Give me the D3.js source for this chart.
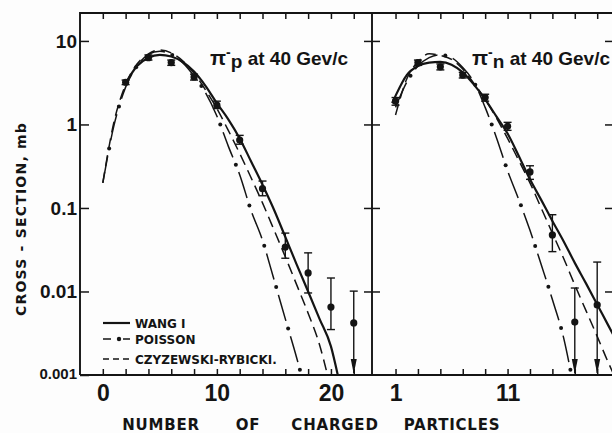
<!DOCTYPE html>
<html><head><meta charset="utf-8">
<script src="https://cdn.jsdelivr.net/npm/d3@7"></script>
<style>
html,body{margin:0;padding:0;background:#fff;}
svg{display:block;}
</style></head><body>
<svg id="chart" width="612" height="433"></svg>
<script>
// ---- pi- p at 40 GeV/c : measured topological cross sections (mb) ----
const ppN    = [2, 4, 6, 8, 10, 12, 14, 16, 18, 20, 22];
const ppV    = [3.2, 6.3, 5.5, 3.7, 1.7, 0.65, 0.17, 0.034, 0.0167, 0.0065, 0.0042];
const ppLo   = [3.0, 5.9, 5.1, 3.4, 1.55, 0.58, 0.14, 0.025, 0.0096, 0.0035, null]; // null = upper limit
const ppHi   = [3.4, 6.8, 5.9, 4.0, 1.9, 0.74, 0.21, 0.05, 0.029, 0.0145, 0.0101];

// model curves, pi- p
const ppWangN = [2, 3, 4, 5, 6, 7, 8, 9, 10, 11, 12, 13, 14, 15, 16, 17, 18, 19, 20, 20.6];
const ppWangV = [3.1, 5.0, 6.3, 6.8, 6.5, 5.6, 4.3, 2.9, 1.8, 1.15, 0.68, 0.36, 0.19, 0.096, 0.045, 0.021, 0.01, 0.0047, 0.0022, 0.001];
const ppPoisN = [0, 1, 2, 3, 4, 5, 6, 7, 8, 9, 10, 11, 12, 13, 14, 15, 16, 17, 17.4];
const ppPoisV = [0.2, 1.0, 2.8, 5.0, 6.9, 7.5, 6.9, 5.5, 3.8, 2.4, 1.26, 0.55, 0.25, 0.093, 0.041, 0.014, 0.0047, 0.0016, 0.001];
const ppCrN   = [0, 1, 2, 3, 4, 5, 6, 7, 8, 9, 10, 11, 12, 13, 14, 15, 16, 17, 18, 19, 19.7];
const ppCrV   = [0.2, 1.1, 3.0, 5.3, 7.0, 7.8, 7.2, 5.8, 4.1, 2.6, 1.55, 0.85, 0.45, 0.23, 0.115, 0.055, 0.026, 0.012, 0.0055, 0.0023, 0.001];

// ---- pi- n at 40 GeV/c ----
const pnN    = [1, 3, 5, 7, 9, 11, 13, 15, 17, 19];
const pnV    = [1.9, 5.5, 4.9, 3.9, 2.1, 0.95, 0.27, 0.0475, 0.0043, 0.0069];
const pnLo   = [1.7, 5.1, 4.5, 3.6, 1.9, 0.85, 0.22, 0.030, null, null];
const pnHi   = [2.1, 5.9, 5.3, 4.2, 2.3, 1.06, 0.32, 0.083, 0.011, 0.0225];

const pnWangN = [0.7, 1, 2, 3, 4, 5, 6, 7, 8, 9, 10, 11, 12, 13, 14, 15, 16, 17, 18, 19, 20, 21];
const pnWangV = [1.8, 2.2, 3.9, 5.0, 5.5, 5.6, 5.2, 4.2, 3.0, 2.0, 1.25, 0.78, 0.42, 0.22, 0.125, 0.07, 0.04, 0.022, 0.0125, 0.007, 0.0039, 0.0022];
const pnPoisN = [1, 2, 3, 4, 5, 6, 7, 8, 9, 10, 11, 12, 13, 14, 15, 16, 16.7];
const pnPoisV = [1.6, 3.2, 5.0, 6.3, 6.8, 6.3, 4.8, 3.2, 1.6, 0.7, 0.28, 0.126, 0.054, 0.021, 0.008, 0.0028, 0.001];
const pnCrN   = [1, 2, 3, 4, 5, 6, 7, 8, 9, 10, 11, 12, 13, 14, 15, 16, 17, 18, 19, 20, 20.5];
const pnCrV   = [1.3, 3.5, 5.6, 7.0, 6.7, 6.0, 4.6, 3.1, 2.0, 1.2, 0.68, 0.37, 0.2, 0.1, 0.05, 0.025, 0.012, 0.0059, 0.0029, 0.0014, 0.001];

// ---- ticks and labels ----
const yTicks       = [0.001, 0.01, 0.1, 1, 10];
const yTickLabels  = ["0.001", "0.01", "0.1", "1", "10"];
const ppXTicks     = [0, 2, 4, 6, 8, 10, 12, 14, 16, 18, 20, 22];
const ppXLabels    = [0, 10, 20];
const pnXTicks     = [1, 3, 5, 7, 9, 11, 13, 15, 17, 19];
const pnXLabels    = [1, 11];
const legendNames  = ["WANG I", "POISSON", "CZYZEWSKI-RYBICKI."];
const xTitleWords  = ["NUMBER", "OF", "CHARGED", "PARTICLES"];
const yTitle       = "CROSS - SECTION, mb";

// ---- layout ----
const W = 612, H = 433;
const fr = {left: 80, mid: 372, right: 614, top: 13, bottom: 375};
const xTitleCentres = [161, 248, 335, 452];
const INK = "#141414";

const svg = d3.select("#chart");
svg.append("rect").attr("width", W).attr("height", H).attr("fill", "#fdfdfd");

const y  = d3.scaleLog().domain([0.001, 21.6]).range([fr.bottom, fr.top]);
const xL = d3.scaleLinear().domain([-2, 23.6]).range([fr.left, fr.mid]);
const xR = d3.scaleLinear().domain([-1.1, 20.5]).range([fr.mid, fr.right]);

const defs = svg.append("defs");
defs.append("clipPath").attr("id", "clipL").append("rect")
  .attr("x", fr.left).attr("y", fr.top).attr("width", fr.mid - fr.left).attr("height", fr.bottom - fr.top);
defs.append("clipPath").attr("id", "clipR").append("rect")
  .attr("x", fr.mid).attr("y", fr.top).attr("width", fr.right - fr.mid).attr("height", fr.bottom - fr.top);

const zip = (a, b) => a.map((v, i) => [v, b[i]]);

// stroke styles for the three models
const styles = {
  wang:    {width: 2.2, dash: null},
  poisson: {width: 1.5, dash: "27,16", dotAt: 35, period: 43},
  cr:      {width: 1.5, dash: "11,6"}
};

function drawCurve(g, x, pts, st) {
  const line = d3.line().x(d => x(d[0])).y(d => y(d[1])).curve(d3.curveMonotoneX);
  const p = g.append("path").attr("d", line(pts))
    .attr("fill", "none").attr("stroke", INK)
    .attr("stroke-width", st.width).attr("stroke-linejoin", "round");
  if (st.dash) p.attr("stroke-dasharray", st.dash);
  if (st.dotAt) {
    const node = p.node(), L = node.getTotalLength();
    for (let s = st.dotAt; s < L; s += st.period) {
      const q = node.getPointAtLength(s);
      g.append("circle").attr("cx", q.x).attr("cy", q.y).attr("r", 2).attr("fill", INK);
    }
  }
}

function drawData(g, x, ns, vs, lo, hi) {
  ns.forEach((n, i) => {
    const cx = x(n), cy = y(vs[i]);
    const yTop = y(hi[i]);
    const yBot = lo[i] === null ? fr.bottom - 2 : y(lo[i]);
    g.append("line").attr("x1", cx).attr("x2", cx).attr("y1", yTop).attr("y2", yBot)
      .attr("stroke", INK).attr("stroke-width", 1.4);
    g.append("line").attr("x1", cx - 4).attr("x2", cx + 4).attr("y1", yTop).attr("y2", yTop)
      .attr("stroke", INK).attr("stroke-width", 1.4);
    if (lo[i] === null) {
      const tip = fr.bottom - 1;
      g.append("path")
        .attr("d", `M${cx - 3},${tip - 15}L${cx + 3},${tip - 15}L${cx},${tip}Z`)
        .attr("fill", INK);
    } else {
      g.append("line").attr("x1", cx - 4).attr("x2", cx + 4).attr("y1", yBot).attr("y2", yBot)
        .attr("stroke", INK).attr("stroke-width", 1.4);
    }
    g.append("circle").attr("cx", cx).attr("cy", cy).attr("r", 3.6).attr("fill", INK);
  });
}

// ---- panels ----
const gL = svg.append("g").attr("clip-path", "url(#clipL)");
drawCurve(gL, xL, zip(ppWangN, ppWangV), styles.wang);
drawCurve(gL, xL, zip(ppPoisN, ppPoisV), styles.poisson);
drawCurve(gL, xL, zip(ppCrN, ppCrV), styles.cr);
drawData(gL, xL, ppN, ppV, ppLo, ppHi);

const gR = svg.append("g").attr("clip-path", "url(#clipR)");
drawCurve(gR, xR, zip(pnWangN, pnWangV), styles.wang);
drawCurve(gR, xR, zip(pnPoisN, pnPoisV), styles.poisson);
drawCurve(gR, xR, zip(pnCrN, pnCrV), styles.cr);
drawData(gR, xR, pnN, pnV, pnLo, pnHi);

// ---- frame ----
svg.append("path")
  .attr("d", `M${fr.left},${fr.bottom}V${fr.top}H${fr.right}M${fr.left},${fr.bottom}H${fr.right}V${fr.top}M${fr.mid},${fr.top}V${fr.bottom}`)
  .attr("fill", "none").attr("stroke", INK).attr("stroke-width", 1.9);

// ---- axes ----
const numFont = "'Liberation Sans Narrow', 'Liberation Sans', sans-serif";
function styleAxis(g) {
  g.select(".domain").remove();
  g.selectAll(".tick line").attr("stroke", INK).attr("stroke-width", 1.5);
  g.selectAll(".tick text").attr("fill", INK);
}

// bottom, left panel
svg.append("g").attr("transform", `translate(0,${fr.bottom})`)
  .call(d3.axisBottom(xL).tickValues(ppXTicks).tickSize(-6).tickPadding(10)
    .tickFormat(d => ppXLabels.includes(d) ? String(d) : ""))
  .call(styleAxis)
  .call(g => g.selectAll(".tick text").attr("font-family", numFont).attr("font-weight", "bold").attr("font-size", 23));
// bottom, right panel
svg.append("g").attr("transform", `translate(0,${fr.bottom})`)
  .call(d3.axisBottom(xR).tickValues(pnXTicks).tickSize(-6).tickPadding(10)
    .tickFormat(d => pnXLabels.includes(d) ? String(d) : ""))
  .call(styleAxis)
  .call(g => g.selectAll(".tick text").attr("font-family", numFont).attr("font-weight", "bold").attr("font-size", 23));
// top ticks
svg.append("g").attr("transform", `translate(0,${fr.top})`)
  .call(d3.axisTop(xL).tickValues(ppXTicks).tickSize(-6).tickFormat(""))
  .call(styleAxis);
svg.append("g").attr("transform", `translate(0,${fr.top})`)
  .call(d3.axisTop(xR).tickValues(pnXTicks).tickSize(-6).tickFormat(""))
  .call(styleAxis);

// left y axis with inward ticks
svg.append("g").attr("transform", `translate(${fr.left},0)`)
  .call(d3.axisLeft(y).tickValues(yTicks).tickSize(-9).tickPadding(3)
    .tickFormat(d => yTickLabels[yTicks.indexOf(d)]))
  .call(styleAxis)
  .call(g => g.selectAll(".tick text")
    .attr("font-family", numFont).attr("font-weight", "bold")
    .attr("font-size", d => d === 0.001 ? 15 : 19)
    .attr("dy", d => d === 0.001 ? "0.25em" : "0.32em"));

// ticks crossing the panel divider
svg.append("g").attr("transform", `translate(${fr.mid - 8},0)`)
  .call(d3.axisRight(y).tickValues(yTicks.slice(1)).tickSize(16).tickFormat(""))
  .call(styleAxis);
// inward ticks on the right edge
svg.append("g").attr("transform", `translate(${fr.right},0)`)
  .call(d3.axisLeft(y).tickValues(yTicks.slice(1)).tickSize(9).tickFormat(""))
  .call(styleAxis);

// ---- axis titles ----
const titleFont = "'DejaVu Sans', sans-serif";
svg.append("text")
  .attr("transform", `translate(26,219) rotate(-90)`)
  .attr("text-anchor", "middle")
  .attr("font-family", titleFont).attr("font-weight", "bold").attr("font-size", 14)
  .attr("letter-spacing", 1.2).attr("fill", INK)
  .text(yTitle);

// x title: words spread under both panels
svg.append("g").selectAll("text").data(xTitleWords).join("text")
  .attr("x", (d, i) => xTitleCentres[i]).attr("y", 430)
  .attr("text-anchor", "middle")
  .attr("font-family", titleFont).attr("font-weight", "bold").attr("font-size", 15)
  .attr("letter-spacing", 0.8).attr("fill", INK)
  .text(d => d);

// ---- panel titles ----
function panelTitle(x0, particle) {
  const t = svg.append("text").attr("x", x0).attr("y", 65)
    .attr("font-family", numFont).attr("font-weight", "bold").attr("fill", INK);
  t.append("tspan").attr("font-size", 21).text("π");
  t.append("tspan").attr("font-size", 14).attr("dy", -8).text("-");
  t.append("tspan").attr("font-size", 19).attr("dy", 11).text(particle);
  t.append("tspan").attr("font-size", 19).attr("dy", -3).text(" at 40 Gev/c");
}
panelTitle(210, "p");
panelTitle(472, "n");

// ---- legend ----
const legY = [323, 339, 359];
const legStyles = [styles.wang, {width: 1.5, dash: "8,12"}, {width: 1.5, dash: "6,4"}];
legendNames.forEach((name, i) => {
  const g = svg.append("g");
  g.append("line").attr("x1", 103).attr("x2", 130).attr("y1", legY[i]).attr("y2", legY[i])
    .attr("stroke", INK).attr("stroke-width", legStyles[i].width)
    .attr("stroke-dasharray", legStyles[i].dash);
  if (i === 1) g.append("circle").attr("cx", 119).attr("cy", legY[i]).attr("r", 2.2).attr("fill", INK);
  g.append("text").attr("x", 135).attr("y", legY[i] + 5)
    .attr("font-family", titleFont).attr("font-weight", "bold").attr("font-size", 12)
    .attr("fill", INK).text(name);
});
</script>
</body></html>
